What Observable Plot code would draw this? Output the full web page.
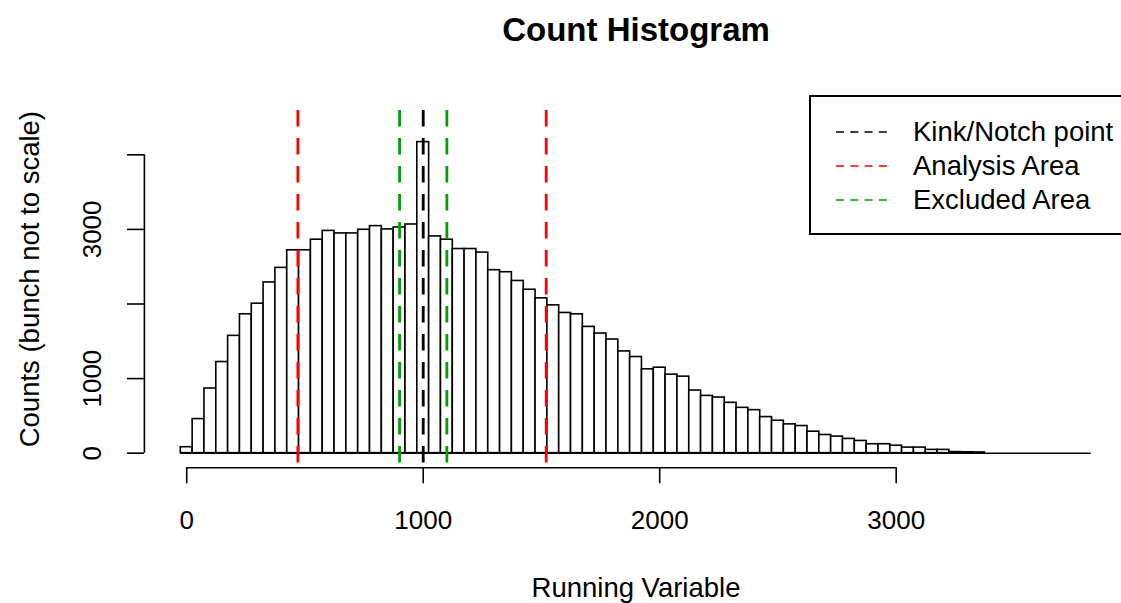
<!DOCTYPE html>
<html>
<head>
<meta charset="utf-8">
<script src="https://cdn.jsdelivr.net/npm/d3@7"></script>
<script src="https://cdn.jsdelivr.net/npm/@observablehq/plot@0.6"></script>
<style>
html, body { margin: 0; padding: 0; background: #fff; overflow: hidden; }
#wrap { position: relative; width: 1121px; height: 603px; font-family: "Liberation Sans", Arial, sans-serif; }
#legend { position: absolute; left: 809px; top: 95px; width: 340px; height: 140px; border: 2px solid #000; background: #fff; box-sizing: border-box; }
.lrow { position: absolute; left: 0; height: 34px; line-height: 34px; font-size: 27.5px; white-space: nowrap; color: #000; }
.lrow svg { position: absolute; left: 25px; top: 15px; }
.lrow span { position: absolute; left: 102px; top: 0; }
</style>
</head>
<body>
<div id="wrap"></div>
<script>
// ---- data ----
const binCenters = [0, 50, 100, 150, 200, 250, 300, 350, 400, 450,
  500, 550, 600, 650, 700, 750, 800, 850, 900, 950,
  1000, 1050, 1100, 1150, 1200, 1250, 1300, 1350, 1400, 1450,
  1500, 1550, 1600, 1650, 1700, 1750, 1800, 1850, 1900, 1950,
  2000, 2050, 2100, 2150, 2200, 2250, 2300, 2350, 2400, 2450,
  2500, 2550, 2600, 2650, 2700, 2750, 2800, 2850, 2900, 2950,
  3000, 3050, 3100, 3150, 3200, 3250, 3300, 3350, 3400, 3450,
  3500, 3550, 3600, 3650, 3700, 3750, 3800];
const counts = [80, 457, 867, 1222, 1573, 1862, 2004, 2289, 2484, 2720,
  2720, 2862, 2980, 2946, 2946, 2995, 3044, 3000, 3026, 3066,
  4170, 2906, 2862, 2737, 2737, 2689, 2453, 2426, 2309, 2191,
  2076, 1982, 1880, 1862, 1693, 1604, 1524, 1364, 1289, 1124,
  1146, 1053, 1026, 840, 768, 746, 675, 608, 577, 484,
  435, 386, 364, 288, 244, 222, 191, 164, 120, 120,
  100, 75, 75, 44, 44, 15, 12, 10, 0, 0,
  0, 0, 0, 0, 0, 0, 0];
const binWidth = 50;

const lineValues = [1000, 470, 1520, 900, 1100];
const lineColors = ["#000000", "#FF0000", "#FF0000", "#00A000", "#00A000"];

const legendLabels = ["Kink/Notch point", "Analysis Area", "Excluded Area"];
const legendColors = ["#000000", "#FF0000", "#00A000"];

const xTickValues = [0, 1000, 2000, 3000];
const xTickLabels = ["0", "1000", "2000", "3000"];
const yTickValues = [0, 1000, 2000, 3000, 4000];
const yTickLabels = ["0", "1000", "", "3000", ""];

const titleText = "Count Histogram";
const xLabel = "Running Variable";
const yLabel = "Counts (bunch not to scale)";

// ---- build tables ----
const bins = binCenters.map((c, i) => ({x1: c - binWidth / 2, x2: c + binWidth / 2, count: counts[i]}));
const vlines = lineValues.map((v, i) => ({v, color: lineColors[i]}));
const xTicks = xTickValues.map((v, i) => ({v, label: xTickLabels[i]}));
const yTicks = yTickValues.map((v, i) => ({v, label: yTickLabels[i]}));

const xDomain = [-179, 3979];
const yDomain = [-196, 4594];
const W = 1121, H = 603;
const mL = 144, mT = 110, mB = 603 - 467.3, mR = 0;
const ink = "#000";
const sw = 1.6;

const chart = Plot.plot({
  width: W,
  height: H,
  marginLeft: mL,
  marginTop: mT,
  marginBottom: mB,
  marginRight: mR,
  style: {fontFamily: '"Liberation Sans", Arial, sans-serif', background: "white", color: "black", overflow: "hidden"},
  x: {domain: xDomain, range: [143.9, 1127.2], label: null},
  y: {domain: yDomain, range: [467.3, 110], label: null},
  marks: [
    Plot.rectY(bins, {x1: "x1", x2: "x2", y1: 0, y2: "count", fill: "white", stroke: ink, strokeWidth: sw}),
    Plot.ruleY([0], {x1: bins[0].x1, x2: bins[bins.length - 1].x2, stroke: ink, strokeWidth: sw}),
    Plot.ruleX(vlines, {x: "v", stroke: "color", strokeWidth: 2.8, strokeDasharray: "16.5,11.5"}),
    // axis lines (first to last tick, R style)
    Plot.ruleY([yDomain[0]], {x1: xTickValues[0], x2: xTickValues[xTickValues.length - 1], stroke: ink, strokeWidth: sw}),
    Plot.ruleX([xDomain[0]], {y1: yTickValues[0], y2: yTickValues[yTickValues.length - 1], stroke: ink, strokeWidth: sw}),
    Plot.axisX(xTickValues, {tickSize: 16, tickFormat: () => "", label: null, stroke: ink, strokeWidth: sw}),
    Plot.axisY(yTickValues, {tickSize: 17, tickFormat: () => "", label: null, stroke: ink, strokeWidth: sw}),
    Plot.text(xTicks, {x: "v", y: yDomain[0], text: "label", dy: 53, fontSize: 26, lineAnchor: "middle", fill: "black"}),
    Plot.text(yTicks, {x: xDomain[0], y: "v", text: "label", dx: -52, rotate: -90, fontSize: 26, textAnchor: "middle", lineAnchor: "middle", fill: "black"}),
    Plot.text([xLabel], {frameAnchor: "bottom", dx: 3, dy: 120, fontSize: 27.5, lineAnchor: "middle", fill: "black"}),
    Plot.text([yLabel], {frameAnchor: "left", dx: -114, dy: -10, rotate: -90, fontSize: 27.5, textAnchor: "middle", lineAnchor: "middle", fill: "black"}),
    Plot.text([titleText], {frameAnchor: "top", dx: 3, dy: -80, fontSize: 33, fontWeight: "bold", lineAnchor: "middle", fill: "black"})
  ]
});

const wrap = document.getElementById("wrap");
wrap.appendChild(chart);

// legend box (R style), built from the legend arrays
const legend = document.createElement("div");
legend.id = "legend";
legendLabels.forEach((lab, i) => {
  const row = document.createElement("div");
  row.className = "lrow";
  row.style.top = (18 + 34.2 * i) + "px";
  const svg = d3.create("svg").attr("width", 54).attr("height", 4);
  svg.append("line").attr("x1", 0).attr("y1", 2).attr("x2", 52).attr("y2", 2)
    .attr("stroke", legendColors[i]).attr("stroke-width", 1.4).attr("stroke-dasharray", "8,6.3");
  row.appendChild(svg.node());
  const span = document.createElement("span");
  span.textContent = lab;
  row.appendChild(span);
  legend.appendChild(row);
});
wrap.appendChild(legend);
</script>
</body>
</html>
